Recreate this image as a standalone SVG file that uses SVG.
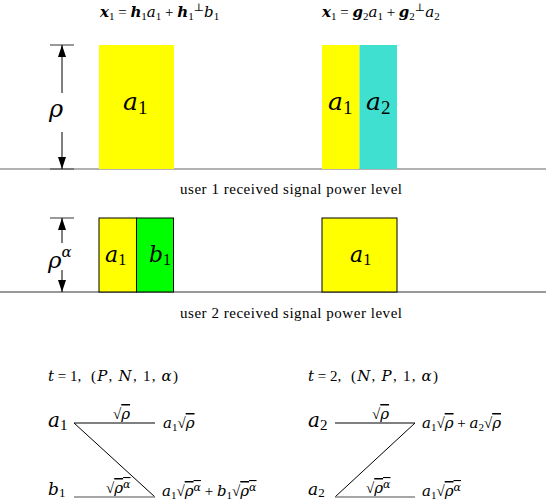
<svg xmlns="http://www.w3.org/2000/svg" width="546" height="501" viewBox="0 0 546 501">
<style>
text{font-family:"Liberation Serif","DejaVu Serif",serif;fill:#000}
.i{font-family:"DejaVu Serif","Liberation Serif",serif;font-style:italic}
.b{font-family:"DejaVu Serif","Liberation Serif",serif;font-weight:bold;font-style:italic}
.ol{text-decoration:overline}
.axis{stroke:#000;stroke-width:1}
.tick{stroke:#555;stroke-width:1.2}
.z{stroke:#000;stroke-width:1;fill:none}
.zg{stroke:#888;stroke-width:1.5;fill:none}
</style>
<defs>
<marker id="ah" viewBox="0 0 12 8" refX="12" refY="4" markerWidth="12" markerHeight="8" markerUnits="userSpaceOnUse" orient="auto-start-reverse">
<path d="M0,0 L12,4 L0,8 Z" fill="#000"/>
</marker>
</defs>

<!-- baselines -->
<line x1="0" y1="169" x2="546" y2="169" stroke="#999" stroke-width="1.5"/>
<line x1="0" y1="292" x2="546" y2="292" stroke="#333" stroke-width="1.2"/>

<!-- top formulas -->
<g id="formula1">
<text x="100" y="17" font-size="15"><tspan class="b">x</tspan><tspan font-size="11" dy="3">1</tspan><tspan dy="-3"> = </tspan><tspan class="b">h</tspan><tspan font-size="11" dy="3">1</tspan><tspan class="i" dy="-3">a</tspan><tspan font-size="11" dy="3">1</tspan><tspan dy="-3"> + </tspan><tspan class="b">h</tspan><tspan font-size="11" dy="3">1</tspan><tspan font-size="11" dy="-9">⊥</tspan><tspan class="i" dy="6">b</tspan><tspan font-size="11" dy="3">1</tspan></text>
</g>
<g id="formula2">
<text x="322" y="17" font-size="15"><tspan class="b">x</tspan><tspan font-size="11" dy="3">1</tspan><tspan dy="-3"> = </tspan><tspan class="b">g</tspan><tspan font-size="11" dy="3">2</tspan><tspan class="i" dy="-3">a</tspan><tspan font-size="11" dy="3">1</tspan><tspan dy="-3"> + </tspan><tspan class="b">g</tspan><tspan font-size="11" dy="3">2</tspan><tspan font-size="11" dy="-9">⊥</tspan><tspan class="i" dy="6">a</tspan><tspan font-size="11" dy="3">2</tspan></text>
</g>

<!-- user 1 power arrow -->
<g id="rho-arrow">
<line class="tick" x1="50" y1="45" x2="74" y2="45"/>
<line class="tick" x1="50" y1="169" x2="74" y2="169"/>
<line class="axis" x1="62" y1="45" x2="62" y2="93" marker-start="url(#ah)"/>
<line class="axis" x1="62" y1="132" x2="62" y2="169" marker-end="url(#ah)"/>
<text x="56" y="117" font-size="24" class="i" text-anchor="middle">ρ</text>
</g>

<g id="u1-a1">
<rect x="99" y="45" width="75" height="124" fill="#ffff00"/>
<text x="123" y="110" font-size="25"><tspan class="i">a</tspan><tspan font-size="19" dy="4">1</tspan></text>
</g>
<g id="u1-a1a2">
<rect x="322" y="45" width="37.5" height="124" fill="#ffff00"/>
<rect x="359.5" y="45" width="37.5" height="124" fill="#40e0d0"/>
<text x="328" y="110" font-size="25"><tspan class="i">a</tspan><tspan font-size="19" dy="4">1</tspan></text>
<text x="366" y="110" font-size="25"><tspan class="i">a</tspan><tspan font-size="19" dy="4">2</tspan></text>
</g>

<text x="291" y="194" font-size="15" text-anchor="middle" textLength="222">user 1 received signal power level</text>

<!-- user 2 power arrow -->
<g id="rhoalpha-arrow">
<line class="tick" x1="50" y1="218" x2="74" y2="218"/>
<line class="axis" x1="62" y1="218" x2="62" y2="243" marker-start="url(#ah)"/>
<line class="axis" x1="62" y1="270" x2="62" y2="292" marker-end="url(#ah)"/>
<text x="48" y="268" font-size="23"><tspan class="i">ρ</tspan><tspan class="i" font-size="15" dy="-11">α</tspan></text>
</g>

<g id="u2-a1b1">
<rect x="99" y="218" width="37.5" height="74" fill="#ffff00" stroke="#000" stroke-width="1"/>
<rect x="136.5" y="218" width="37" height="74" fill="#00ff00" stroke="#000" stroke-width="1"/>
<text x="105" y="262" font-size="22"><tspan class="i">a</tspan><tspan font-size="16" dy="3">1</tspan></text>
<text x="149" y="262" font-size="22"><tspan class="i">b</tspan><tspan font-size="16" dy="3">1</tspan></text>
</g>
<g id="u2-a1">
<rect x="322" y="218" width="75" height="74" fill="#ffff00" stroke="#000" stroke-width="1"/>
<text x="350" y="262" font-size="22"><tspan class="i">a</tspan><tspan font-size="16" dy="3">1</tspan></text>
</g>

<text x="291" y="318" font-size="15" text-anchor="middle" textLength="222">user 2 received signal power level</text>

<!-- time slot 1 -->
<g id="t1-title">
<text x="48" y="381" font-size="15"><tspan class="i">t</tspan> = 1,</text>
<text x="91" y="381" font-size="15" textLength="87">(<tspan class="i">P</tspan>, <tspan class="i">N</tspan>, 1, <tspan class="i">α</tspan>)</text>
</g>
<g id="t1-a1">
<text x="48" y="427" font-size="20"><tspan class="i">a</tspan><tspan font-size="15" dy="3">1</tspan></text>
</g>
<g id="t1-b1">
<text x="48" y="495" font-size="17"><tspan class="i">b</tspan><tspan font-size="13" dy="2">1</tspan></text>
</g>
<g id="t1-out1">
<text x="163" y="428" font-size="15"><tspan class="i">a</tspan><tspan font-size="11" dy="3">1</tspan><tspan dy="-3">√</tspan><tspan class="i ol">ρ</tspan></text>
</g>
<g id="t1-out2">
<text x="162" y="496" font-size="15"><tspan class="i">a</tspan><tspan font-size="11" dy="3">1</tspan><tspan dy="-3">√</tspan><tspan class="i ol">ρ<tspan font-size="11" dy="-5">α</tspan></tspan><tspan dy="5">  +  </tspan><tspan class="i">b</tspan><tspan font-size="11" dy="3">1</tspan><tspan dy="-3">√</tspan><tspan class="i ol">ρ<tspan font-size="11" dy="-5">α</tspan></tspan></text>
</g>

<!-- time slot 2 -->
<g id="t2-title">
<text x="308" y="381" font-size="15"><tspan class="i">t</tspan> = 2,</text>
<text x="351" y="381" font-size="15" textLength="87">(<tspan class="i">N</tspan>, <tspan class="i">P</tspan>, 1, <tspan class="i">α</tspan>)</text>
</g>
<g id="t2-a2top">
<text x="308" y="427" font-size="20"><tspan class="i">a</tspan><tspan font-size="15" dy="3">2</tspan></text>
</g>
<g id="t2-a2bot">
<text x="308" y="495" font-size="17"><tspan class="i">a</tspan><tspan font-size="13" dy="2">2</tspan></text>
</g>
<g id="t2-out1">
<text x="422" y="428" font-size="15"><tspan class="i">a</tspan><tspan font-size="11" dy="3">1</tspan><tspan dy="-3">√</tspan><tspan class="i ol">ρ</tspan><tspan> + </tspan><tspan class="i">a</tspan><tspan font-size="11" dy="3">2</tspan><tspan dy="-3">√</tspan><tspan class="i ol">ρ</tspan></text>
</g>
<g id="t2-out2">
<text x="422" y="496" font-size="15"><tspan class="i">a</tspan><tspan font-size="11" dy="3">1</tspan><tspan dy="-3">√</tspan><tspan class="i ol">ρ<tspan font-size="11" dy="-5">α</tspan></tspan></text>
</g>

<!-- connectors -->
<g id="connectors">
<polyline class="z" points="155,423 74,423 155,497"/>
<line class="zg" x1="74" y1="497" x2="155" y2="497"/>
<polyline class="z" points="335,423 415,423 335,497"/>
<line class="zg" x1="335" y1="497" x2="415" y2="497"/>
<text x="113" y="419" font-size="15">√<tspan class="i ol">ρ</tspan></text>
<text x="106" y="493" font-size="15">√<tspan class="i ol">ρ<tspan font-size="11" dy="-5">α</tspan></tspan></text>
<text x="372" y="419" font-size="15">√<tspan class="i ol">ρ</tspan></text>
<text x="366" y="493" font-size="15">√<tspan class="i ol">ρ<tspan font-size="11" dy="-5">α</tspan></tspan></text>
</g>
</svg>
